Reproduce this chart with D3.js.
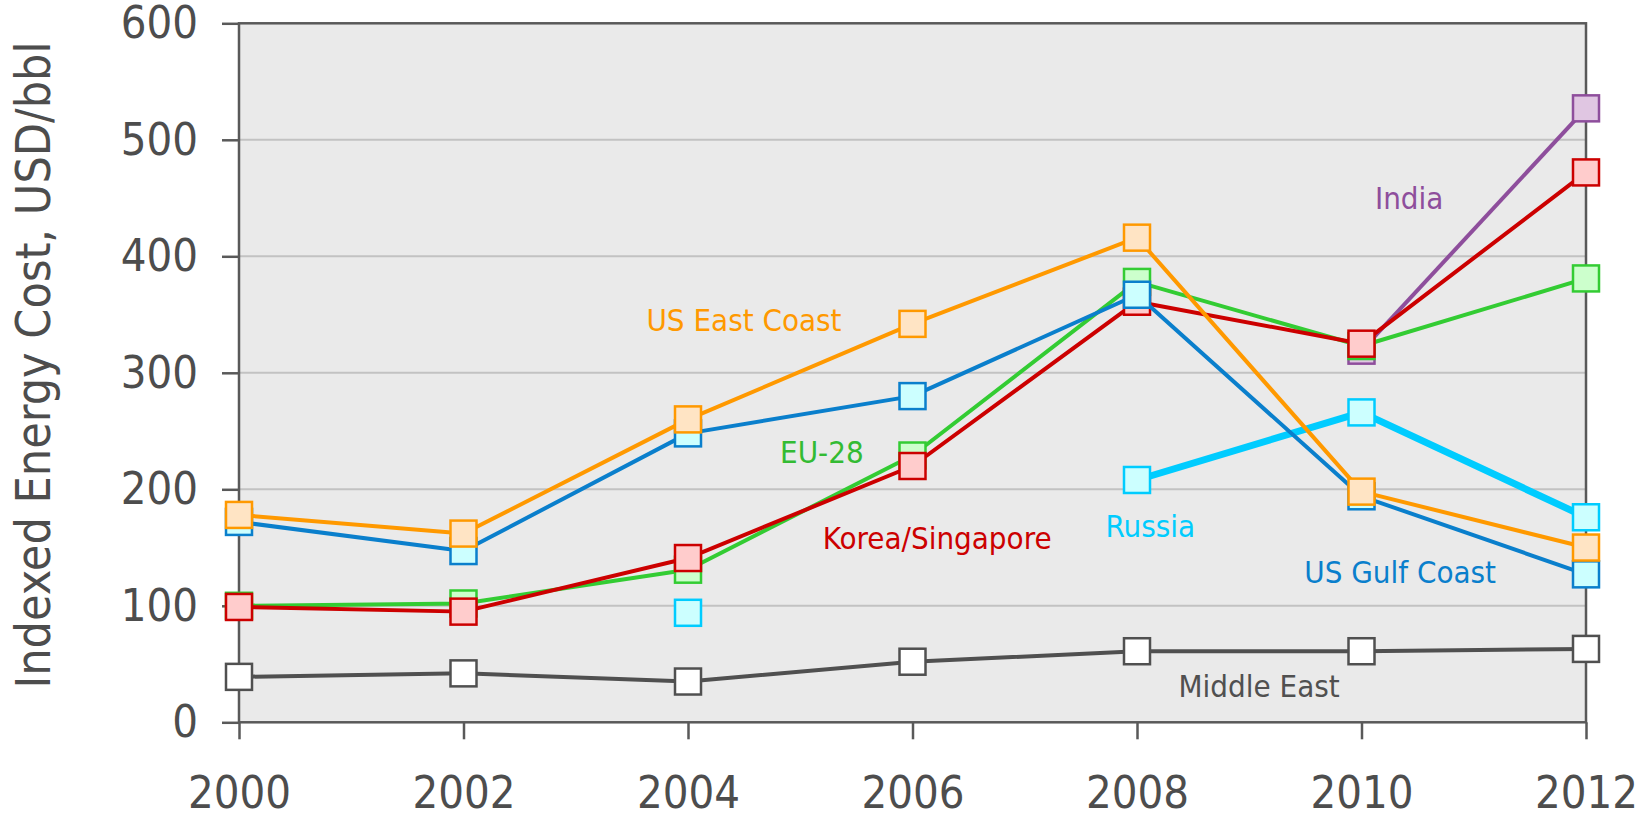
<!DOCTYPE html>
<html>
<head>
<meta charset="utf-8">
<script src="https://cdn.jsdelivr.net/npm/d3@7"></script>
<style>
  body { margin: 0; background: #fff; }
  text { font-family: "DejaVu Sans Condensed", "DejaVu Sans", sans-serif; font-stretch: condensed; }
</style>
</head>
<body>
<div id="chart"></div>
<script>
// data (USD/bbl)
var years = [2000, 2002, 2004, 2006, 2008, 2010, 2012];
var middleEast = [39, 42, 35, 52, 61, 61, 63];
var india = [null, null, null, null, null, 319, 527];
var eu28 = [100, 102, 131, 229, 378, 323, 381];
var koreaSing = [99, 95, 141, 220, 361, 325, 472];
var russia = [null, null, 94, null, 208, 266, 176];
var usGulf = [172, 147, 248, 280, 367, 194, 127];
var usEast = [178, 162, 260, 342, 416, 198, 150];
var yTicks = [0, 100, 200, 300, 400, 500, 600];
var xTicks = [2000, 2002, 2004, 2006, 2008, 2010, 2012];

// label anchors in data units: [year, value]
var labelNames = ["US East Coast", "EU-28", "Korea/Singapore", "Russia", "US Gulf Coast", "Middle East", "India"];
var labelAt = [[2003.63, 336], [2004.82, 223], [2005.2, 149], [2007.72, 159], [2009.49, 120], [2008.37, 22], [2010.12, 441]];

var series = [
  { name: "Middle East", values: middleEast, stroke: "#505050", fill: "#ffffff", width: 4 },
  { name: "India", values: india, stroke: "#8e4e9c", fill: "#e0c6e2", width: 4 },
  { name: "EU-28", values: eu28, stroke: "#33cc33", fill: "#ccffcc", width: 4 },
  { name: "Korea/Singapore", values: koreaSing, stroke: "#cc0000", fill: "#ffcccc", width: 4 },
  { name: "Russia", values: russia, stroke: "#00ccff", fill: "#ccffff", width: 7 },
  { name: "US Gulf Coast", values: usGulf, stroke: "#0a7fcc", fill: "#ccffff", width: 4 },
  { name: "US East Coast", values: usEast, stroke: "#ff9900", fill: "#ffe4c4", width: 4 }
];
var labelColor = {
  "US East Coast": "#ff9900", "EU-28": "#33bb33", "Korea/Singapore": "#cc0000",
  "Russia": "#00ccff", "US Gulf Coast": "#0a7fcc", "Middle East": "#505050", "India": "#8e4e9c"
};

const dim = { width: 1649, height: 818, left: 239, right: 1586, top: 23.3, bottom: 722.3 };
var axisColor = "#595959";
var textColor = "#4d4d4d";

var svg = d3.select("#chart").append("svg")
  .attr("width", dim.width)
  .attr("height", dim.height);

var x = d3.scaleLinear().domain([2000, 2012]).range([dim.left, dim.right]);
var y = d3.scaleLinear().domain([0, 600]).range([dim.bottom, dim.top]);

// plot background
svg.append("rect")
  .attr("x", x(2000)).attr("y", y(600))
  .attr("width", x(2012) - x(2000)).attr("height", y(0) - y(600))
  .style("fill", "#eaeaea");

// gridlines
svg.append("g").selectAll("line")
  .data(yTicks.filter(function (d) { return d > 0 && d < 600; }))
  .enter().append("line")
  .attr("x1", x(2000)).attr("x2", x(2012))
  .attr("y1", function (d) { return y(d); })
  .attr("y2", function (d) { return y(d); })
  .style("stroke", "#c2c2c2").style("stroke-width", 2);

// axes
var yAxis = svg.append("g")
  .attr("transform", "translate(" + dim.left + ",0)")
  .call(d3.axisLeft(y).tickValues(yTicks).tickSize(17).tickPadding(24));
var xAxis = svg.append("g")
  .attr("transform", "translate(0," + dim.bottom + ")")
  .call(d3.axisBottom(x).tickValues(xTicks).tickFormat(d3.format("d")).tickSize(17).tickPadding(37));
[yAxis, xAxis].forEach(function (g) {
  g.select(".domain").remove();
  g.selectAll(".tick line").style("stroke", axisColor).style("stroke-width", 2.5);
  g.selectAll(".tick text")
    .style("font-size", "45px")
    .style("fill", textColor)
    .style("font-family", "'DejaVu Sans Condensed', 'DejaVu Sans', sans-serif");
});

// plot border
svg.append("rect")
  .attr("x", x(2000)).attr("y", y(600))
  .attr("width", x(2012) - x(2000)).attr("height", y(0) - y(600))
  .style("fill", "none").style("stroke", axisColor).style("stroke-width", 2.5);

// series
var line = d3.line()
  .defined(function (d) { return d.v != null; })
  .x(function (d) { return x(d.year); })
  .y(function (d) { return y(d.v); });

var msize = 26;
series.forEach(function (s) {
  var pts = years.map(function (yr, i) { return { year: yr, v: s.values[i] }; });
  var g = svg.append("g");
  g.append("path")
    .datum(pts)
    .attr("d", line)
    .style("fill", "none")
    .style("stroke", s.stroke)
    .style("stroke-width", s.width)
    .style("stroke-linejoin", "round");
  g.selectAll("rect")
    .data(pts.filter(function (d) { return d.v != null; }))
    .enter().append("rect")
    .attr("x", function (d) { return x(d.year) - msize / 2; })
    .attr("y", function (d) { return y(d.v) - msize / 2; })
    .attr("width", msize).attr("height", msize)
    .style("fill", s.fill)
    .style("stroke", s.stroke)
    .style("stroke-width", 2.5);
});

// series labels
svg.append("g").selectAll("text")
  .data(labelNames)
  .enter().append("text")
  .attr("x", function (d, i) { return x(labelAt[i][0]); })
  .attr("y", function (d, i) { return y(labelAt[i][1]); })
  .text(function (d) { return d; })
  .style("font-size", "31px")
  .style("fill", function (d) { return labelColor[d]; });

// y axis title
svg.append("text")
  .attr("text-anchor", "middle")
  .attr("transform", "translate(50,365) rotate(-90)")
  .text("Indexed Energy Cost, USD/bbl")
  .style("font-size", "48px")
  .style("fill", textColor);
</script>
</body>
</html>
